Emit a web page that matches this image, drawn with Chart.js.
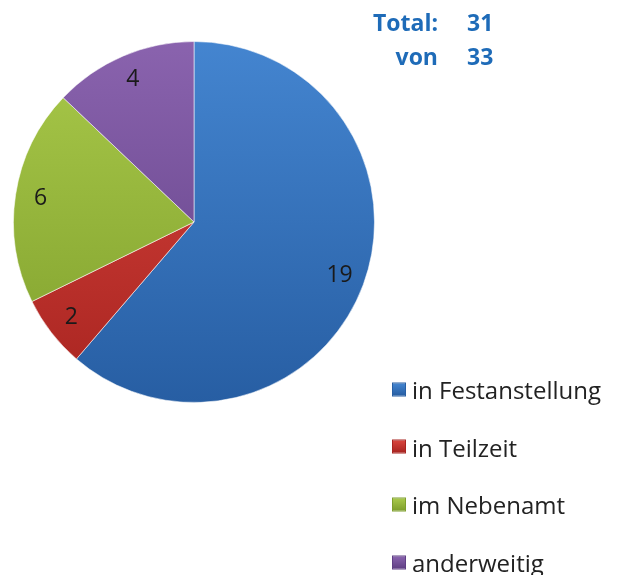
<!DOCTYPE html>
<html>
<head>
<meta charset="utf-8">
<script src="https://cdn.jsdelivr.net/npm/chart.js@4.4.0/dist/chart.umd.min.js"></script>
<style>
    body { margin: 0; background: #fff; font-family: "Open Sans", Lato, sans-serif; }
    #wrap { position: relative; width: 618px; height: 575px; }
    #pie { position: absolute; left: 0; top: 0; }
    .total { position: absolute; color: #1e6bb8; font-weight: bold; font-size: 23px; line-height: 1; }
    .legend { position: absolute; left: 392px; top: 0; font-size: 24px; color: #222; }
    .legend .item { position: absolute; left: 0; white-space: nowrap; display: flex; align-items: center; transform: translateY(-50%); }
    .legend .box { width: 14px; height: 14px; margin-right: 6px; box-sizing: border-box; }
</style>
</head>
<body>
<div id="wrap">
    <canvas id="pie" width="618" height="575"></canvas>
    <div id="totals"></div>
    <div class="legend" id="legend"></div>
</div>
<script>
const categories = ['in Festanstellung', 'in Teilzeit', 'im Nebenamt', 'anderweitig'];
const counts = [19, 2, 6, 4];
const totalLines = [['Total:', '31'], ['von', '33']];
// light / dark shade per slice
const lightColors = ['#4485d0', '#d9453e', '#a9c94a', '#8a63ae'];
const darkColors = ['#275ea3', '#a82420', '#7f9f2c', '#5f3f84'];

document.addEventListener('DOMContentLoaded', function () {
    const ctx = document.getElementById('pie').getContext('2d');

    function sliceFill(context) {
        const chart = context.chart;
        const area = chart.chartArea;
        if (!area) return lightColors[context.dataIndex];
        const g = chart.ctx.createLinearGradient(0, area.top, 0, area.bottom);
        g.addColorStop(0, lightColors[context.dataIndex]);
        g.addColorStop(1, darkColors[context.dataIndex]);
        return g;
    }

    // draw the counts inside each slice
    const sliceLabels = {
        id: 'sliceLabels',
        afterDatasetsDraw(chart) {
            const c = chart.ctx;
            const meta = chart.getDatasetMeta(0);
            c.save();
            c.font = '23px "Open Sans", Lato, sans-serif';
            c.fillStyle = '#1a1a1a';
            c.textAlign = 'center';
            c.textBaseline = 'middle';
            meta.data.forEach(function (arc, i) {
                const p = arc.getProps(['x', 'y', 'startAngle', 'endAngle', 'outerRadius']);
                const mid = (p.startAngle + p.endAngle) / 2;
                const r = p.outerRadius * 0.86;
                c.fillText(String(counts[i]), p.x + Math.cos(mid) * r, p.y + Math.sin(mid) * r);
            });
            c.restore();
        }
    };

    new Chart(ctx, {
        type: 'pie',
        data: {
            labels: categories,
            datasets: [{
                data: counts,
                backgroundColor: sliceFill,
                borderColor: 'rgba(255,255,255,0.55)',
                borderWidth: 1
            }]
        },
        options: {
            responsive: false,
            animation: false,
            layout: { padding: { left: 13, top: 41, right: 243, bottom: 172 } },
            plugins: {
                legend: { display: false },
                tooltip: { enabled: false }
            }
        },
        plugins: [sliceLabels]
    });

    // Total / von block
    const totals = document.getElementById('totals');
    totalLines.forEach(function (line, i) {
        const top = 11 + i * 34;
        const lab = document.createElement('div');
        lab.className = 'total';
        lab.style.left = '318px';
        lab.style.top = top + 'px';
        lab.style.width = '120px';
        lab.style.textAlign = 'right';
        lab.textContent = line[0];
        const val = document.createElement('div');
        val.className = 'total';
        val.style.left = '467px';
        val.style.top = top + 'px';
        val.textContent = line[1];
        totals.appendChild(lab);
        totals.appendChild(val);
    });

    // legend
    const legend = document.getElementById('legend');
    categories.forEach(function (name, i) {
        const item = document.createElement('div');
        item.className = 'item';
        item.style.top = (389 + i * 57.7) + 'px';
        const box = document.createElement('span');
        box.className = 'box';
        box.style.background = 'linear-gradient(' + lightColors[i] + ', ' + darkColors[i] + ')';
        box.style.border = '1px solid ' + darkColors[i];
        const txt = document.createElement('span');
        txt.textContent = name;
        item.appendChild(box);
        item.appendChild(txt);
        legend.appendChild(item);
    });
});
</script>
</body>
</html>
